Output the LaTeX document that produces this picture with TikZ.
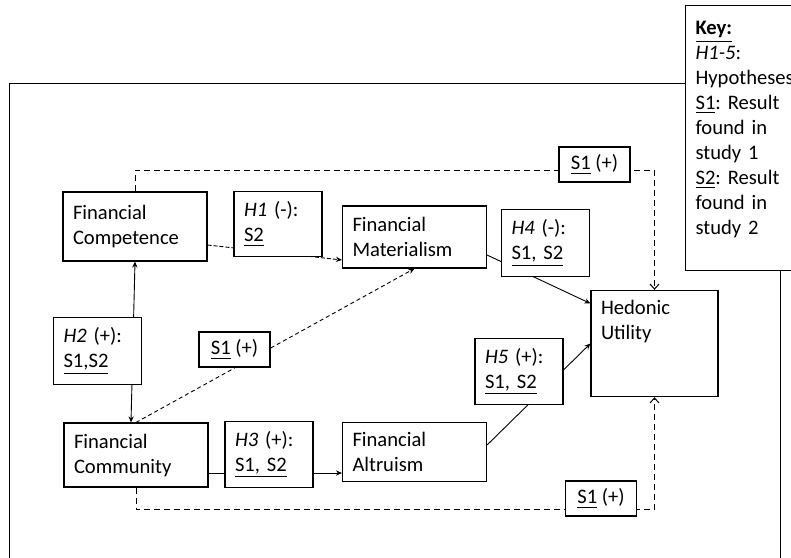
\documentclass[tikz,border=0pt]{standalone}
\usepackage{fontspec}
\setmainfont{Carlito}
\usetikzlibrary{arrows.meta}
\frenchspacing

\begin{document}
\begin{tikzpicture}[x=0.5pt,y=-0.5pt,
  >={Stealth[length=3pt,width=2.6pt]},
  box/.style={draw,fill=white,line width=0.55pt,align=left,
              font=\fontsize{10.3}{12.5}\selectfont,inner xsep=5pt,inner ysep=5pt},
  con/.style={box,text width=62pt,minimum height=32pt},
  hyp/.style={box,text width=34pt,minimum height=32pt},
  res/.style={box,align=center,minimum width=35.5pt,minimum height=17.5pt,inner ysep=2pt},
  pth/.style={line width=0.45pt,->},
  dsh/.style={line width=0.5pt,dash pattern=on 3pt off 2pt,
              -{Straight Barb[length=2.5pt,width=4.5pt]}}]

\clip (0,0) rectangle (791,557);
\draw[line width=0.5pt] (9,83) rectangle (780,600);

\node[con,minimum height=34.5pt] (comp) at (135,226.5) {Financial\\Competence};
\node[con,minimum height=31pt]   (mat)  at (414.5,237) {Financial\\Materialism};
\node[con]                       (comm) at (136,455) {Financial\\Community};
\node[con,minimum height=29pt]   (alt)  at (414.5,452) {Financial\\Altruism};
\node[box,text width=53.5pt,text depth=36pt] (hu) at (654.5,343.5) {Hedonic\\Utility};

% paths first, the hypothesis boxes are drawn over them
\draw[pth,dash pattern=on 2pt off 1pt] ([yshift=-9.25pt]comp.east) -- ([yshift=-11.5pt]mat.west);
\draw[line width=0.45pt,<->] ([xshift=-2.5pt]comm.north) -- (comp.south);
\draw[pth,dash pattern=on 2pt off 1.5pt] (comm.north) -- (mat.south);
\draw[pth] ([yshift=-9pt]mat.east) -- ([yshift=20pt]hu.west);
\draw[pth] ([yshift=3.5pt]alt.east) -- (hu.west);
\draw[pth] ([yshift=-9pt]comm.east) -- ([yshift=-9pt]comm.east -| alt.west);
\draw[dsh] (comp.north) -- ++(0,10.5pt) -| (hu.north);
\draw[dsh] (comm.south) -- ++(0,-11pt) -| (hu.south);

\node[hyp] (h1) at (278,224)   {\textit{H1} (-):\\\underline{S2}};
\node[hyp] (h2) at (97.5,351)  {\textit{H2} (+):\\\underline{S1,S2}};
\node[hyp] (h3) at (269,454.5) {\textit{H3} (+):\\\underline{S1, S2}};
\node[hyp] (h4) at (545.5,243) {\textit{H4} (-):\\\underline{S1, S2}};
\node[hyp] (h5) at (519,371.5) {\textit{H5} (+):\\\underline{S1, S2}};
\node[res] (s1a) at (594.5,164.5) {\underline{S1} (+)};
\node[res] (s1b) at (234.5,349.5) {\underline{S1} (+)};
\node[res] (s1c) at (601,498.5)   {\underline{S1} (+)};

% key, cut off at the right edge
\node[box,anchor=north west,text width=60pt,inner ysep=8pt,text depth=110pt] (key) at (685,5)
  {\textbf{\underline{Key:}}\\\textit{H1-5}:\\Hypotheses\\\underline{S1}: Result\\found in\\study 1\\
   \underline{S2}: Result\\found in\\study 2};
\end{tikzpicture}
\end{document}
